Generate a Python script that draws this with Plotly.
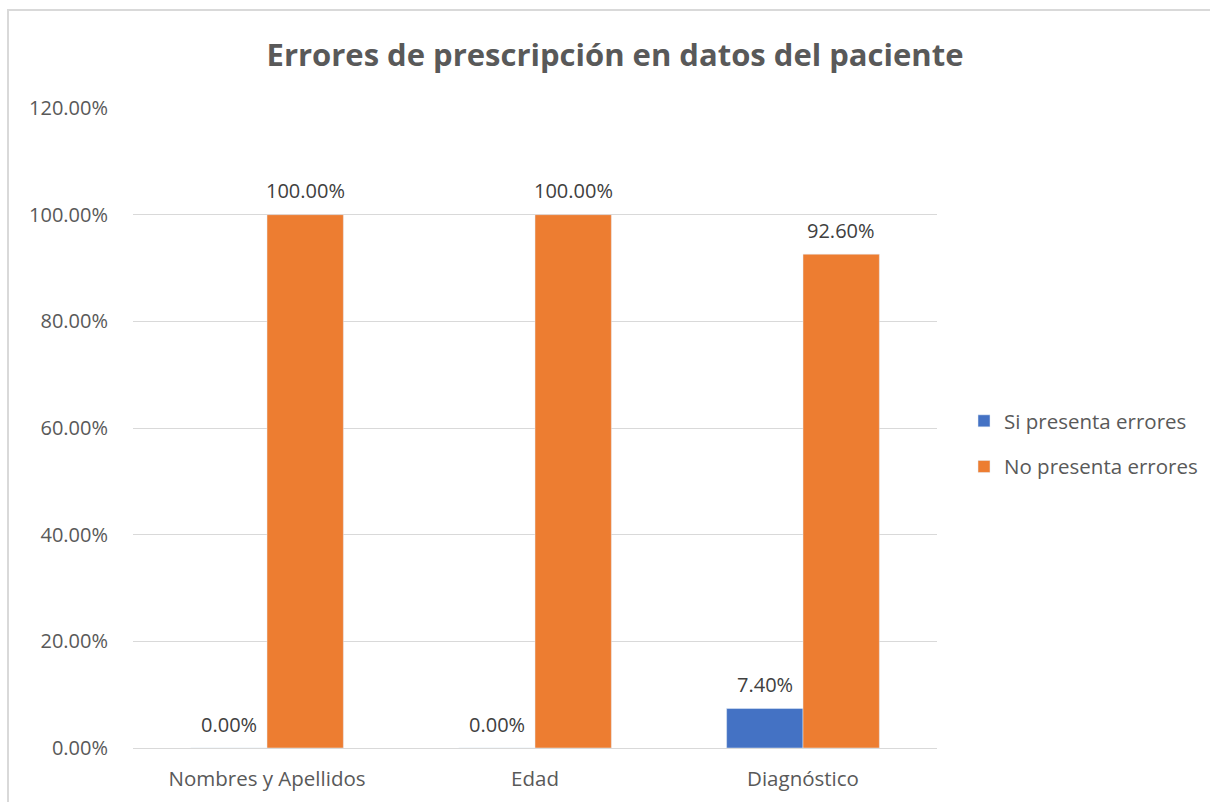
import plotly.graph_objects as go

categories = ["Nombres y Apellidos", "Edad", "Diagnóstico"]
si_presenta = [0.0, 0.0, 0.074]
no_presenta = [1.0, 1.0, 0.926]
series_names = ["Si presenta errores", "No presenta errores"]
title_text = "Errores de prescripción en datos del paciente"

W, H = 1210, 802
L, T = 133, 108
R, B = W - 937, H - 748
pw, ph = W - L - R, H - T - B

FONT = "Open Sans"
BARGAP = 0.43
half = (1 - BARGAP) / 4  # centre offset of each bar inside its group

fig = go.Figure()
fig.add_trace(go.Bar(x=categories, y=si_presenta, name=series_names[0],
                     marker_color="#4472C4", legendgroup="a"))
fig.add_trace(go.Bar(x=categories, y=no_presenta, name=series_names[1],
                     marker_color="#ED7D31", legendgroup="b"))

annotations = []
for values, sign in ((si_presenta, -1), (no_presenta, 1)):
    for i, v in enumerate(values):
        annotations.append(dict(x=i + sign * half, y=v, xref="x", yref="y",
                                text=f"{v:.2%}", showarrow=False, yanchor="middle",
                                yshift=24, font=dict(size=20, color="#404040", family=FONT)))

fig.update_layout(
    width=W, height=H,
    margin=dict(l=L, r=R, t=T, b=B, autoexpand=False),
    paper_bgcolor="white", plot_bgcolor="white",
    barmode="group", bargap=BARGAP, bargroupgap=0,
    font=dict(family=FONT, color="#595959", size=20),
    title=dict(text="<b>" + title_text + "</b>", x=615 / W, xanchor="center",
               y=1 - 55 / H, yanchor="middle", xref="container", yref="container",
               font=dict(size=31, color="#595959", family=FONT)),
    legend=dict(x=(964 - L) / pw, xanchor="left", y=(748 - 444) / ph, yanchor="middle",
                traceorder="grouped", tracegroupgap=16,
                font=dict(size=20.5, color="#595959", family=FONT),
                itemwidth=30),
    showlegend=True,
    annotations=annotations,
    shapes=[dict(type="rect", xref="paper", yref="paper",
                 x0=(8 - L) / pw, x1=(1230 - L) / pw,
                 y0=(748 - 820) / ph, y1=(748 - 10) / ph,
                 line=dict(color="#d9d9d9", width=2), fillcolor="rgba(0,0,0,0)", layer="below")],
)
fig.update_yaxes(range=[0, 1.2], dtick=0.2, tickformat=".2%", showgrid=True,
                 gridcolor="#d9d9d9", gridwidth=1, zeroline=False, showline=False,
                 ticks="", ticklabelstandoff=24,
                 tickfont=dict(size=20, color="#595959", family=FONT))
fig.update_xaxes(showline=True, linecolor="#d9d9d9", linewidth=1, ticks="",
                 ticklabelstandoff=12,
                 tickfont=dict(size=20.5, color="#595959", family=FONT))

fig.write_html("out.html", config={"displayModeBar": False},
               post_script="document.body.style.margin='0';document.body.style.overflow='hidden';")
